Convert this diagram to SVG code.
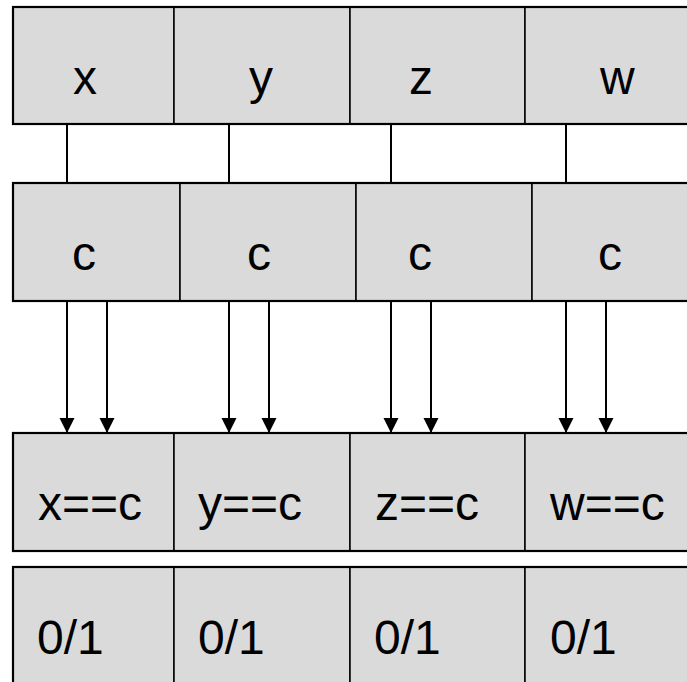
<svg xmlns="http://www.w3.org/2000/svg" width="687" height="682" viewBox="0 0 687 682">
<defs>
<style>
.cell{fill:#dadada;stroke:#000;stroke-width:1.5}
.lbl{font-family:"Liberation Sans",Arial,sans-serif;font-size:48px;fill:#000}
.con{stroke:#000;stroke-width:2;fill:none}
.row{fill:none;stroke:#000;stroke-width:2.2}
</style>
<marker id="ah" markerUnits="userSpaceOnUse" markerWidth="15" markerHeight="16" refX="15" refY="7.5" orient="auto" viewBox="0 0 15 15">
<path d="M0,0 L15,7.5 L0,15 Z" fill="#000"/>
</marker>
</defs>
<rect width="687" height="682" fill="#fff"/>
<g id="connectors">
<line class="con" x1="67" y1="124" x2="67" y2="183"/>
<line class="con" x1="229" y1="124" x2="229" y2="183"/>
<line class="con" x1="391" y1="124" x2="391" y2="183"/>
<line class="con" x1="566" y1="124" x2="566" y2="183"/>
<line class="con" x1="67" y1="301" x2="67" y2="433" marker-end="url(#ah)"/>
<line class="con" x1="107" y1="301" x2="107" y2="433" marker-end="url(#ah)"/>
<line class="con" x1="229" y1="301" x2="229" y2="433" marker-end="url(#ah)"/>
<line class="con" x1="269" y1="301" x2="269" y2="433" marker-end="url(#ah)"/>
<line class="con" x1="391" y1="301" x2="391" y2="433" marker-end="url(#ah)"/>
<line class="con" x1="431" y1="301" x2="431" y2="433" marker-end="url(#ah)"/>
<line class="con" x1="566" y1="301" x2="566" y2="433" marker-end="url(#ah)"/>
<line class="con" x1="606" y1="301" x2="606" y2="433" marker-end="url(#ah)"/>
</g>
<g id="var-x"><rect class="cell" x="13" y="7" width="161" height="117"/><text class="lbl" x="73" y="94">x</text></g>
<g id="var-y"><rect class="cell" x="174" y="7" width="176" height="117"/><text class="lbl" x="249" y="94">y</text></g>
<g id="var-z"><rect class="cell" x="350" y="7" width="175" height="117"/><text class="lbl" x="409" y="94">z</text></g>
<g id="var-w"><rect class="cell" x="525" y="7" width="180" height="117"/><text class="lbl" x="600" y="94">w</text></g>
<g id="c-1"><rect class="cell" x="13" y="183" width="167" height="118"/><text class="lbl" x="72" y="270">c</text></g>
<g id="c-2"><rect class="cell" x="180" y="183" width="176" height="118"/><text class="lbl" x="247" y="270">c</text></g>
<g id="c-3"><rect class="cell" x="356" y="183" width="176" height="118"/><text class="lbl" x="408" y="270">c</text></g>
<g id="c-4"><rect class="cell" x="532" y="183" width="175" height="118"/><text class="lbl" x="598" y="270">c</text></g>
<g id="cmp-x"><rect class="cell" x="13" y="433" width="161" height="118"/><text class="lbl" x="38" y="520">x==c</text></g>
<g id="cmp-y"><rect class="cell" x="174" y="433" width="176" height="118"/><text class="lbl" x="198" y="520">y==c</text></g>
<g id="cmp-z"><rect class="cell" x="350" y="433" width="175" height="118"/><text class="lbl" x="375" y="520">z==c</text></g>
<g id="cmp-w"><rect class="cell" x="525" y="433" width="180" height="118"/><text class="lbl" x="550" y="520">w==c</text></g>
<g id="res-x"><rect class="cell" x="13" y="567" width="161" height="130"/><text class="lbl" x="37" y="654">0/1</text></g>
<g id="res-y"><rect class="cell" x="174" y="567" width="176" height="130"/><text class="lbl" x="198" y="654">0/1</text></g>
<g id="res-z"><rect class="cell" x="350" y="567" width="175" height="130"/><text class="lbl" x="374" y="654">0/1</text></g>
<g id="res-w"><rect class="cell" x="525" y="567" width="180" height="130"/><text class="lbl" x="550" y="654">0/1</text></g>
<rect class="row" x="13" y="7" width="700" height="117"/>
<rect class="row" x="13" y="183" width="700" height="118"/>
<rect class="row" x="13" y="433" width="700" height="118"/>
<rect class="row" x="13" y="567" width="700" height="130"/>
</svg>
